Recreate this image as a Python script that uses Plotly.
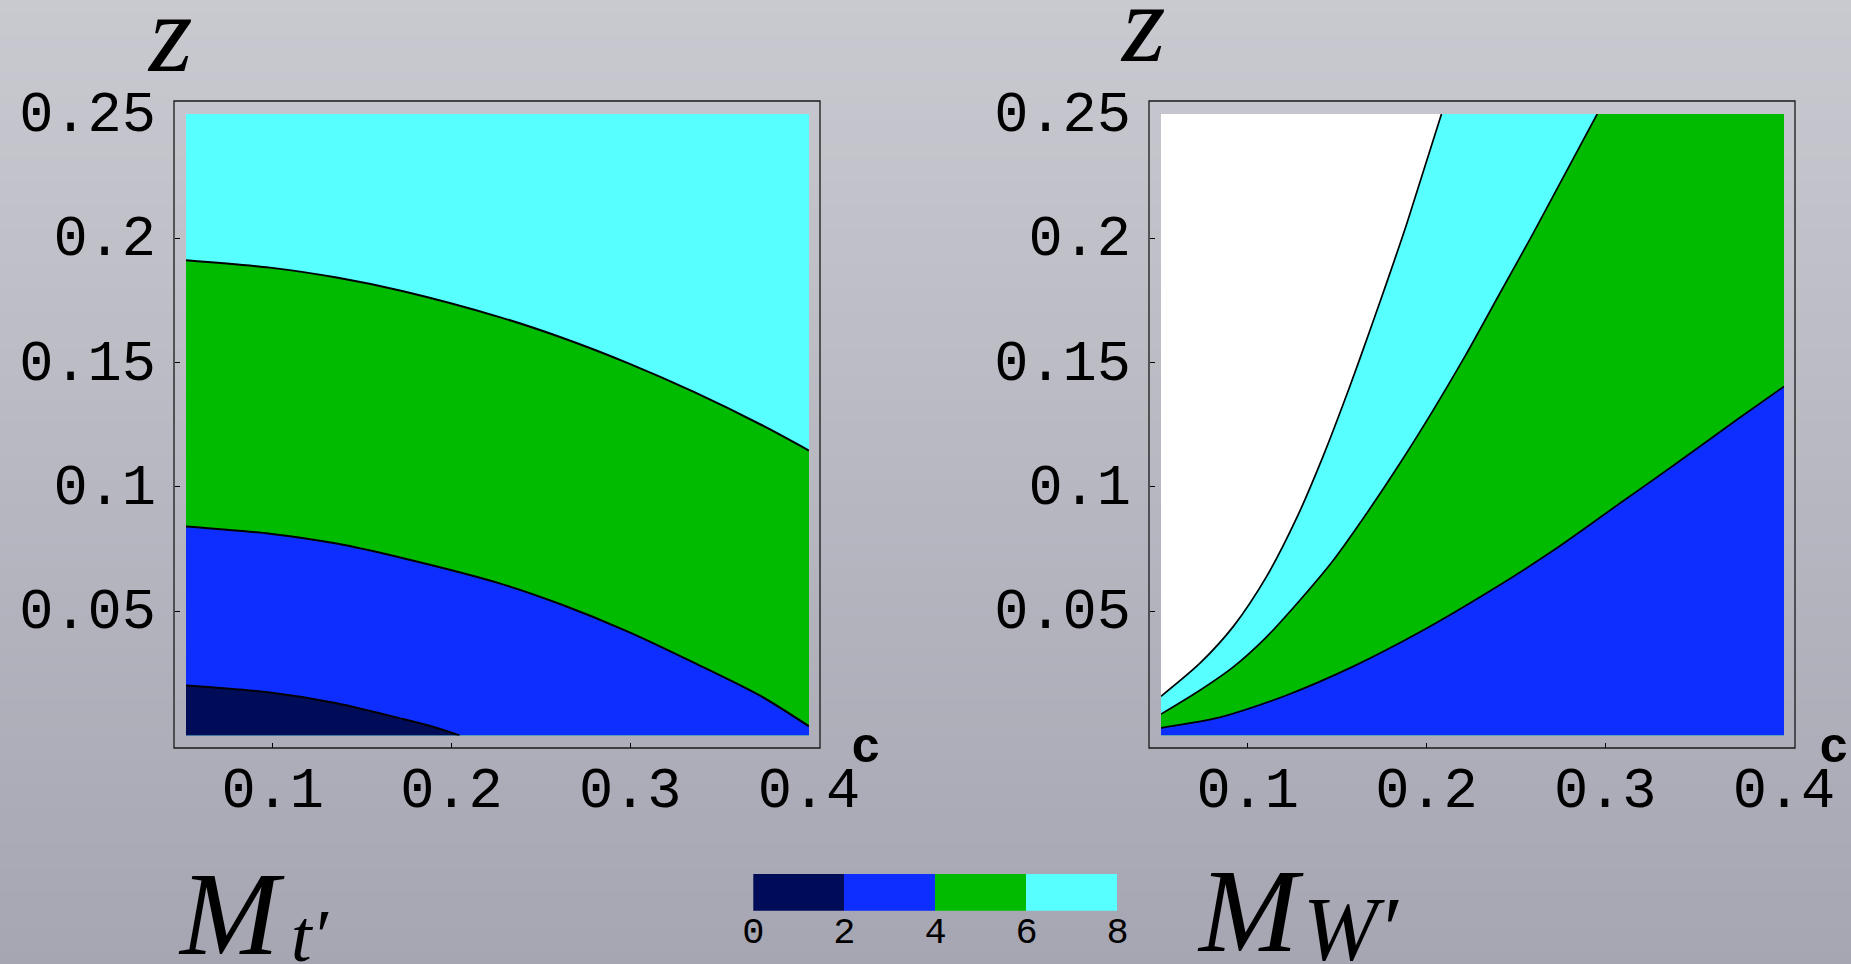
import plotly.graph_objects as go

W, H = 1851, 964

# ---------------------------------------------------------------- data ----
C_RANGE = [0.0515, 0.4]
Z_RANGE = [0.0, 0.25]
C_TICKS = [0.1, 0.2, 0.3, 0.4]
C_TICK_TEXT = ["0.1", "0.2", "0.3", "0.4"]
Z_TICKS = [0.05, 0.1, 0.15, 0.2, 0.25]
Z_TICK_TEXT = ["0.05", "0.1", "0.15", "0.2", "0.25"]

# contour levels and band colours (0-2, 2-4, 4-6, 6-8)
LEVELS = [0, 2, 4, 6, 8]
LEVEL_COLORS = ["#000C58", "#0D2EFF", "#00BB00", "#57FFFF"]
ABOVE_TOP_LEVEL = "#FFFFFF"

# M_t' contour lines (c, z)
MT_L2_C = [0.0515, 0.0985, 0.1358, 0.1730, 0.1900, 0.2046]
MT_L2_Z = [0.0201, 0.0173, 0.0130, 0.0066, 0.0034, 0.0]
MT_L4_C = [0.0515, 0.0985, 0.1358, 0.1730, 0.2274, 0.2615, 0.2987, 0.3359, 0.3732, 0.4]
MT_L4_Z = [0.0841, 0.0812, 0.0772, 0.0713, 0.0611, 0.0527, 0.0418, 0.0292, 0.0158, 0.0037]
MT_L6_C = [0.0515, 0.0985, 0.1358, 0.1730, 0.2274, 0.2615, 0.2987, 0.3359, 0.3732, 0.4]
MT_L6_Z = [0.1912, 0.1882, 0.1842, 0.1787, 0.1682, 0.1601, 0.1498, 0.1381, 0.1250, 0.1146]

# M_W' contour lines (c, z)
MW_L4_C = [0.0515, 0.0849, 0.1221, 0.1594, 0.1966, 0.2339, 0.2711, 0.3084, 0.3393, 0.3732, 0.4]
MW_L4_Z = [0.0031, 0.0074, 0.0163, 0.0279, 0.0417, 0.0574, 0.0745, 0.0935, 0.1092, 0.1268, 0.1404]
MW_L6_C = [0.0515, 0.0733, 0.0920, 0.1106, 0.1292, 0.1479, 0.1665, 0.1851, 0.2037, 0.2224,
           0.2410, 0.2596, 0.2955]
MW_L6_Z = [0.0086, 0.0182, 0.0276, 0.0397, 0.0544, 0.0705, 0.0893, 0.1094, 0.1308, 0.1536,
           0.1778, 0.2019, 0.25]
MW_L8_C = [0.0515, 0.0733, 0.0920, 0.1106, 0.1274, 0.1422, 0.1572, 0.1683, 0.1795, 0.1892, 0.2084]
MW_L8_Z = [0.0158, 0.0291, 0.0439, 0.0640, 0.0875, 0.1124, 0.1406, 0.1628, 0.1858, 0.2064, 0.25]


# -------------------------------------------------------------- layout ----
def fx(xp):
    return xp / W


def fy(yp):
    return 1 - yp / H


MONO = "Liberation Mono"
SERIF = "Liberation Serif"

# pixel boxes: plot area and surrounding frame for each panel
PANELS = [
    dict(x0=186, x1=809, fx0=174, fx1=820),
    dict(x0=1161, x1=1784, fx0=1149, fx1=1795),
]
PLOT_TOP, PLOT_BOT = 114, 735.5
FRAME_TOP, FRAME_BOT = 101, 748

fig = go.Figure()


def poly(cs, zs, xa, ya, color):
    fig.add_trace(go.Scatter(
        x=cs, y=zs, xaxis=xa, yaxis=ya, mode="lines", fill="toself",
        fillcolor=color, line=dict(width=0), hoverinfo="skip", showlegend=False))


def contour_line(cs, zs, xa, ya, width):
    fig.add_trace(go.Scatter(
        x=cs, y=zs, xaxis=xa, yaxis=ya, mode="lines",
        line=dict(color="black", width=width, shape="spline", smoothing=0.8),
        hoverinfo="skip", showlegend=False))


cmin, cmax = C_RANGE
zmin, zmax = Z_RANGE
rect_c = [cmin, cmax, cmax, cmin]
rect_z = [zmin, zmin, zmax, zmax]

# left panel: M_t'
poly(rect_c, rect_z, "x", "y", LEVEL_COLORS[3])
poly(MT_L6_C + [cmax, cmin], MT_L6_Z + [zmin, zmin], "x", "y", LEVEL_COLORS[2])
poly(MT_L4_C + [cmax, cmin], MT_L4_Z + [zmin, zmin], "x", "y", LEVEL_COLORS[1])
poly(MT_L2_C + [cmin], MT_L2_Z + [zmin], "x", "y", LEVEL_COLORS[0])
for cs, zs in [(MT_L6_C, MT_L6_Z), (MT_L4_C, MT_L4_Z), (MT_L2_C, MT_L2_Z)]:
    contour_line(cs, zs, "x", "y", 2.0)

# right panel: M_W'
poly(rect_c, rect_z, "x2", "y2", ABOVE_TOP_LEVEL)
poly(MW_L8_C + [cmax, cmax, cmin], MW_L8_Z + [zmax, zmin, zmin], "x2", "y2", LEVEL_COLORS[3])
poly(MW_L6_C + [cmax, cmax, cmin], MW_L6_Z + [zmax, zmin, zmin], "x2", "y2", LEVEL_COLORS[2])
poly(MW_L4_C + [cmax, cmin], MW_L4_Z + [zmin, zmin], "x2", "y2", LEVEL_COLORS[1])
for cs, zs in [(MW_L8_C, MW_L8_Z), (MW_L6_C, MW_L6_Z), (MW_L4_C, MW_L4_Z)]:
    contour_line(cs, zs, "x2", "y2", 1.7)

# colour key: one horizontal bar per band
fig.add_trace(go.Bar(
    x=[b - a for a, b in zip(LEVELS[:-1], LEVELS[1:])], base=LEVELS[:-1],
    y=[0] * (len(LEVELS) - 1), orientation="h", width=1,
    marker=dict(color=LEVEL_COLORS, line=dict(width=0)),
    xaxis="x3", yaxis="y3", hoverinfo="skip", showlegend=False))

tickfont = dict(family=MONO, size=57, color="black")
axis_common = dict(showgrid=False, zeroline=False, showline=False, ticks="inside",
                   ticklen=5, tickwidth=1, tickcolor="black", tickfont=tickfont,
                   fixedrange=True, automargin=False)

layout = dict(
    width=W, height=H, margin=dict(l=0, r=0, t=0, b=0, pad=0, autoexpand=False),
    paper_bgcolor="#B8B8C2", plot_bgcolor="rgba(0,0,0,0)",
    showlegend=False, bargap=0,
)

for i, p in enumerate(PANELS):
    sx = "" if i == 0 else str(i + 1)
    layout["xaxis" + sx] = dict(
        axis_common, domain=[fx(p["x0"]), fx(p["x1"])], range=C_RANGE,
        anchor="free", position=fy(FRAME_BOT), tickvals=C_TICKS, ticktext=C_TICK_TEXT,
        ticklabelstandoff=1)
    layout["yaxis" + sx] = dict(
        axis_common, domain=[fy(PLOT_BOT), fy(PLOT_TOP)], range=Z_RANGE,
        anchor="free", position=fx(p["fx0"]), tickvals=Z_TICKS, ticktext=Z_TICK_TEXT,
        ticklabelstandoff=18, ticklabelshift=-3)

layout["xaxis3"] = dict(
    domain=[fx(753.3), fx(1117.7)], range=[LEVELS[0], LEVELS[-1]], anchor="free",
    position=fy(902.7), tickvals=LEVELS, ticktext=[str(v) for v in LEVELS], ticks="",
    showgrid=False, zeroline=False, showline=False,
    tickfont=dict(family=MONO, size=37, color="black"),
    ticklabelstandoff=2, fixedrange=True, automargin=False)
layout["yaxis3"] = dict(
    domain=[fy(910.7), fy(873.7)], range=[-0.5, 0.5], visible=False, fixedrange=True,
    automargin=False)

# background: soft vertical grey gradient
shapes = []
N_BANDS = 80
top_rgb, bot_rgb = (201, 201, 208), (166, 166, 179)
for k in range(N_BANDS):
    t = (k + 0.5) / N_BANDS
    col = tuple(round(a + (b - a) * t) for a, b in zip(top_rgb, bot_rgb))
    shapes.append(dict(
        type="rect", xref="paper", yref="paper", x0=0, x1=1,
        y0=fy((k + 1) * H / N_BANDS + 0.5), y1=fy(k * H / N_BANDS),
        fillcolor="rgb(%d,%d,%d)" % col, line=dict(width=0), layer="below"))

# frames around the two panels
for p in PANELS:
    shapes.append(dict(
        type="rect", xref="paper", yref="paper",
        x0=fx(p["fx0"]), x1=fx(p["fx1"]), y0=fy(FRAME_BOT), y1=fy(FRAME_TOP),
        line=dict(color="#1a1a1a", width=1.3), fillcolor="rgba(0,0,0,0)", layer="above"))
layout["shapes"] = shapes


def label(text, xp, yp, family, size, style="normal", weight="normal",
          xanchor="center"):
    return dict(text=text, x=fx(xp), y=fy(yp), xref="paper", yref="paper",
                showarrow=False, xanchor=xanchor, yanchor="middle",
                font=dict(family=family, size=size, color="black", style=style,
                          weight=weight))


layout["annotations"] = [
    label("z", 170, 33, SERIF, 112, style="italic"),
    label("z", 1143, 23, SERIF, 112, style="italic"),
    label("c", 866, 748, MONO, 50, weight="bold"),
    label("c", 1834, 748, MONO, 50, weight="bold"),
    label("M", 176, 914, SERIF, 119, style="italic", xanchor="left"),
    label("t\u2032", 289, 936, SERIF, 74, style="italic", xanchor="left"),
    label("M", 1195, 911, SERIF, 119, style="italic", xanchor="left"),
    label("W\u2032", 1301, 929, SERIF, 90, style="italic", xanchor="left"),
]

fig.update_layout(**layout)
fig.write_html("out.html")
